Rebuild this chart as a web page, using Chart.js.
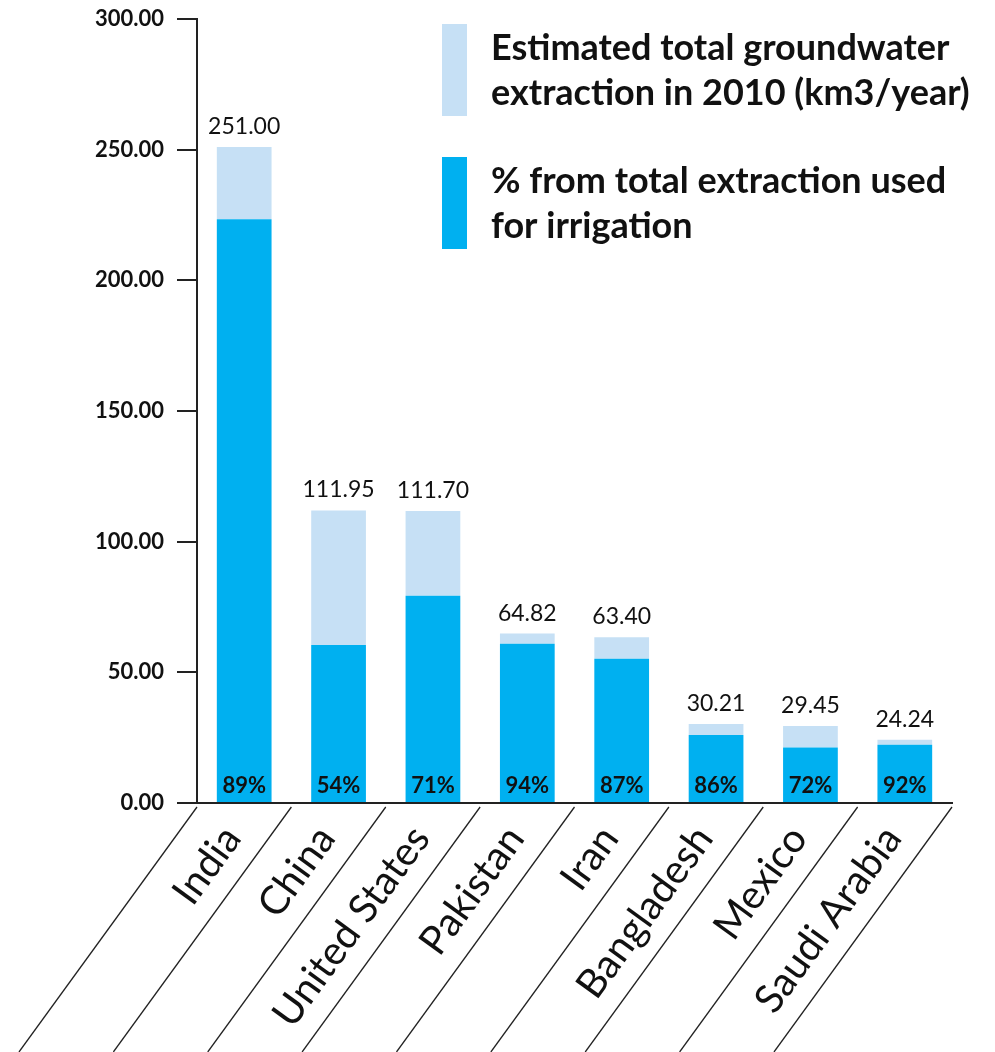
<!DOCTYPE html>
<html>
<head>
<meta charset="utf-8">
<script src="https://cdn.jsdelivr.net/npm/chart.js@4.4.0/dist/chart.umd.min.js"></script>
<style>
  html, body { margin: 0; padding: 0; background: #fff; }
  #wrap { width: 995px; height: 1052px; }
</style>
</head>
<body>
<div id="wrap"><canvas id="myChart" width="995" height="1052"></canvas></div>
<script>
const countries = ["India", "China", "United States", "Pakistan", "Iran", "Bangladesh", "Mexico", "Saudi Arabia"];
const totalExtraction = [251.00, 111.95, 111.70, 64.82, 63.40, 30.21, 29.45, 24.24];
const irrigationPct = [89, 54, 71, 94, 87, 86, 72, 92];
const yTicks = [0, 50, 100, 150, 200, 250, 300];

const legendLines = [
    ["Estimated total groundwater", "extraction in 2010 (km3/year)"],
    ["% from total extraction used", "for irrigation"]
];

const darkBlue = '#00b0f0';
const lightBlue = '#c6e0f5';

const irrigationPart = totalExtraction.map((t, i) => t * irrigationPct[i] / 100);
const restPart = totalExtraction.map((t, i) => t - irrigationPart[i]);

// value labels, slanted separators and the legend block
const decorations = {
    id: 'decorations',
    afterDatasetsDraw(chart) {
        const ctx = chart.ctx;
        const xScale = chart.scales.x;
        const yScale = chart.scales.y;
        const bottomMeta = chart.getDatasetMeta(0);
        const topMeta = chart.getDatasetMeta(1);

        ctx.save();
        ctx.fillStyle = '#111';
        ctx.textAlign = 'center';

        // totals above bars
        ctx.font = '23px Lato';
        ctx.textBaseline = 'alphabetic';
        topMeta.data.forEach((bar, i) => {
            ctx.fillText(totalExtraction[i].toFixed(2), bar.x, bar.y - 13);
        });

        // percentages at the foot of bars
        ctx.font = 'bold 22px Lato';
        bottomMeta.data.forEach((bar, i) => {
            ctx.fillText(irrigationPct[i] + '%', bar.x, yScale.bottom - 10);
        });

        // slanted lines between category labels
        const step = xScale.width / countries.length;
        const angle = 54 * Math.PI / 180;
        const y0 = yScale.bottom + 4;
        const y1 = chart.height;
        ctx.strokeStyle = '#222';
        ctx.lineWidth = 1.3;
        for (let k = 0; k <= countries.length; k++) {
            const xb = xScale.left + k * step;
            ctx.beginPath();
            ctx.moveTo(xb, y0);
            ctx.lineTo(xb - (y1 - y0) / Math.tan(angle), y1);
            ctx.stroke();
        }

        // legend
        const colors = [lightBlue, darkBlue];
        const boxTops = [24, 157];
        ctx.font = 'bold 36px Lato';
        ctx.textAlign = 'left';
        legendLines.forEach((lines, j) => {
            ctx.fillStyle = colors[j];
            ctx.fillRect(442, boxTops[j], 25, 92);
            ctx.fillStyle = '#111';
            lines.forEach((line, n) => {
                ctx.fillText(line, 491, boxTops[j] + 36 + n * 45);
            });
        });
        ctx.restore();
    }
};

const ctx = document.getElementById('myChart').getContext('2d');
new Chart(ctx, {
    type: 'bar',
    data: {
        labels: countries,
        datasets: [{
            label: 'Used for irrigation',
            data: irrigationPart,
            backgroundColor: darkBlue,
            barPercentage: 0.58,
            categoryPercentage: 1.0
        }, {
            label: 'Estimated total groundwater extraction',
            data: restPart,
            backgroundColor: lightBlue,
            barPercentage: 0.58,
            categoryPercentage: 1.0
        }]
    },
    options: {
        responsive: false,
        animation: false,
        layout: {
            padding: { top: 19, right: 43, left: 0, bottom: 0 }
        },
        plugins: {
            legend: { display: false },
            tooltip: { enabled: false }
        },
        scales: {
            x: {
                stacked: true,
                grid: { display: false },
                border: { display: true, color: '#222', width: 2 },
                ticks: {
                    color: '#111',
                    font: { family: 'Lato', size: 40 },
                    minRotation: 54,
                    maxRotation: 54,
                    padding: 6,
                    labelOffset: -12,
                    autoSkip: false
                },
                afterFit(scale) { scale.height = 249; }
            },
            y: {
                stacked: true,
                min: 0,
                max: 300,
                afterBuildTicks(scale) {
                    scale.ticks = yTicks.map(v => ({ value: v }));
                },
                grid: {
                    drawOnChartArea: false,
                    drawTicks: true,
                    tickLength: 20,
                    color: '#222',
                    lineWidth: 2
                },
                border: { display: true, color: '#222', width: 2 },
                ticks: {
                    color: '#111',
                    font: { family: 'Lato', size: 22, weight: 'bold' },
                    padding: 13,
                    callback: v => Number(v).toFixed(2)
                },
                afterFit(scale) {
                    scale.width = 197;
                    scale.paddingTop = 0;
                    scale.paddingBottom = 0;
                }
            }
        }
    },
    plugins: [decorations]
});
</script>
</body>
</html>
